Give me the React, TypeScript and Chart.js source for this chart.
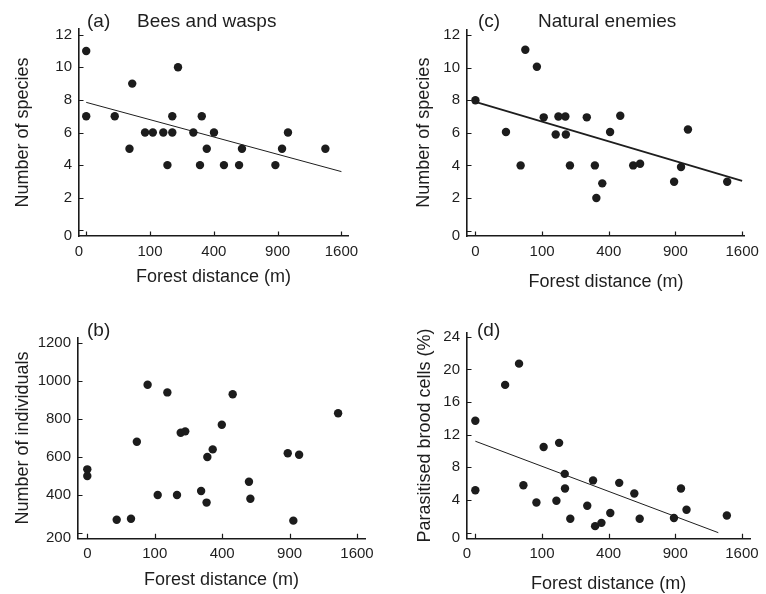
import React, { useEffect, useRef } from 'react';
import { Chart, registerables } from 'chart.js';

Chart.register(...registerables);

// ---------- data ----------
const xTickValues = [0, 100, 400, 900, 1600];
const xTickLabels = ['0', '100', '400', '900', '1600'];

const speciesTicks = [0, 2, 4, 6, 8, 10, 12];
const individualsTicks = [200, 400, 600, 800, 1000, 1200];
const parasitisedTicks = [0, 4, 8, 12, 16, 20, 24];

// (a) Bees and wasps – number of species
const beesDistance = [0, 0, 20, 46, 52, 85, 109, 146, 162, 182, 182, 207, 282, 318, 328, 357, 401, 466, 574, 596, 879, 942, 1000, 1405];
const beesSpecies = [11, 7, 7, 5, 9, 6, 6, 6, 4, 7, 6, 10, 6, 4, 7, 5, 6, 4, 4, 5, 4, 5, 6, 5];
const beesFitDistance = [0, 1600];
const beesFitSpecies = [7.85, 3.6];

// (b) number of individuals
const indivDistance = [0, 0, 19, 42, 54, 80, 109, 141, 177, 192, 211, 285, 313, 317, 346, 398, 465, 575, 585, 884, 934, 987, 1384];
const indivCount = [535, 500, 270, 275, 680, 980, 400, 940, 400, 728, 735, 421, 360, 600, 640, 770, 930, 470, 380, 620, 265, 612, 830];

// (c) Natural enemies – number of species
const enemiesDistance = [0, 21, 46, 56, 85, 105, 145, 155, 182, 184, 201, 279, 321, 329, 362, 408, 472, 560, 610, 888, 951, 1016, 1426];
const enemiesSpecies = [8, 6.05, 4, 11.1, 10.05, 6.95, 5.9, 7, 7, 5.9, 4, 6.95, 4, 2, 2.9, 6.05, 7.05, 4, 4.1, 3, 3.9, 6.2, 3];
const enemiesFitDistance = [0, 1600];
const enemiesFitSpecies = [7.9, 3.05];

// (d) parasitised brood cells (%)
const parasDistance = [0, 0, 20, 43, 52, 84, 105, 148, 158, 180, 181, 203, 282, 312, 323, 358, 410, 466, 569, 608, 888, 952, 1004, 1424];
const parasPercent = [13.7, 5.2, 18.1, 20.7, 5.8, 3.7, 10.5, 3.9, 11, 7.2, 5.4, 1.7, 3.3, 6.4, 0.8, 1.2, 2.4, 6.1, 4.8, 1.7, 1.8, 5.4, 2.8, 2.1];
const parasFitDistance = [0, 1329];
const parasFitPercent = [11.2, 0];

// ---------- styling ----------
const FONT = '"Liberation Sans", Arial, Helvetica, sans-serif';
const INK = '#1e1e1e';
const AXIS = '#1a1a1a';
const CW = 383;
const CH = 304;

type PanelCfg = {
  left: number;
  top: number;
  area: { left: number; right: number; top: number; bottom: number };
  xMin: number;
  xMax: number;
  yMin: number;
  yMax: number;
  xZeroAtEdge: boolean;
  yTicks: number[];
  yTitle: string;
  yTitlePad: number;
  xTitlePad: number;
  distance: number[];
  values: number[];
  fitDistance?: number[];
  fitValues?: number[];
  fitWidth?: number;
  tag: string;
  tagX: number;
  tagY: number;
  title?: string;
  titleX?: number;
};

const panels: PanelCfg[] = [
  {
    left: 0, top: 0,
    area: { left: 79, right: 348, top: 29, bottom: 236 },
    xMin: -1.13, xMax: 41.03, yMin: -0.35, yMax: 12.35,
    xZeroAtEdge: true,
    yTicks: speciesTicks, yTitle: 'Number of species', yTitlePad: 12.7, xTitlePad: 16.2,
    distance: beesDistance, values: beesSpecies,
    fitDistance: beesFitDistance, fitValues: beesFitSpecies, fitWidth: 1,
    tag: '(a)', tagX: 87, tagY: 26.7, title: 'Bees and wasps', titleX: 137,
  },
  {
    left: 383, top: 0,
    area: { left: 84, right: 365, top: 29.3, bottom: 236 },
    xMin: -1.26, xMax: 40.43, yMin: -0.33, yMax: 12.35,
    xZeroAtEdge: false,
    yTicks: speciesTicks, yTitle: 'Number of species', yTitlePad: 30, xTitlePad: 11.5,
    distance: enemiesDistance, values: enemiesSpecies,
    fitDistance: enemiesFitDistance, fitValues: enemiesFitSpecies, fitWidth: 1.8,
    tag: '(c)', tagX: 95, tagY: 26.7, title: 'Natural enemies', titleX: 155,
  },
  {
    left: 0, top: 290,
    area: { left: 78, right: 365, top: 47.7, bottom: 248.3 },
    xMin: -1.38, xMax: 41.19, yMin: 172, yMax: 1228,
    xZeroAtEdge: false,
    yTicks: individualsTicks, yTitle: 'Number of individuals', yTitlePad: 12.7, xTitlePad: 2.7,
    distance: indivDistance, values: indivCount,
    tag: '(b)', tagX: 87, tagY: 45.7,
  },
  {
    left: 383, top: 290,
    area: { left: 84, right: 370, top: 42.7, bottom: 248.3 },
    xMin: -1.25, xMax: 41.25, yMin: -0.69, yMax: 24.49,
    xZeroAtEdge: true,
    yTicks: parasitisedTicks, yTitle: 'Parasitised brood cells (%)', yTitlePad: 30.9, xTitlePad: -0.8,
    distance: parasDistance, values: parasPercent,
    fitDistance: parasFitDistance, fitValues: parasFitPercent, fitWidth: 1,
    tag: '(d)', tagX: 94, tagY: 45.7,
  },
];

function Panel({ cfg }: { cfg: PanelCfg }) {
  const ref = useRef<HTMLCanvasElement>(null);

  useEffect(() => {
    const canvas = ref.current;
    if (!canvas) return;

    const points = cfg.distance.map((d, i) => ({ x: Math.sqrt(d), y: cfg.values[i] }));
    const datasets: any[] = [];
    if (cfg.fitDistance && cfg.fitValues) {
      datasets.push({
        type: 'scatter',
        data: cfg.fitDistance.map((d, i) => ({ x: Math.sqrt(d), y: cfg.fitValues![i] })),
        showLine: true,
        borderColor: INK,
        borderWidth: cfg.fitWidth || 1,
        pointRadius: 0,
        fill: false,
        tension: 0,
        order: 2,
      });
    }
    datasets.push({
      type: 'scatter',
      data: points,
      pointRadius: 4.2,
      pointBackgroundColor: '#1c1c1c',
      pointBorderColor: '#1c1c1c',
      pointBorderWidth: 0,
      order: 1,
    });

    const decor = {
      id: 'panelDecor',
      afterDraw(chart: any) {
        const { ctx, chartArea } = chart;
        const xs = chart.scales.x;
        const ys = chart.scales.y;
        ctx.save();
        ctx.strokeStyle = AXIS;
        ctx.lineWidth = 1.2;
        ctx.beginPath();
        xTickValues.forEach((v) => {
          const px = Math.round(xs.getPixelForValue(Math.sqrt(v))) + 0.5;
          ctx.moveTo(px, chartArea.bottom);
          ctx.lineTo(px, chartArea.bottom - 4.5);
        });
        cfg.yTicks.forEach((v) => {
          const py = Math.round(ys.getPixelForValue(v)) + 0.5;
          ctx.moveTo(chartArea.left, py);
          ctx.lineTo(chartArea.left + 4.5, py);
        });
        ctx.stroke();
        ctx.fillStyle = INK;
        ctx.font = `19px ${FONT}`;
        ctx.textAlign = 'left';
        ctx.textBaseline = 'alphabetic';
        ctx.fillText(cfg.tag, cfg.tagX, cfg.tagY);
        if (cfg.title && cfg.titleX !== undefined) ctx.fillText(cfg.title, cfg.titleX, cfg.tagY);
        ctx.restore();
      },
    };

    const chart = new Chart(canvas, {
      type: 'scatter',
      data: { datasets },
      options: {
        animation: false,
        responsive: false,
        events: [],
        layout: {
          padding: { left: 0, top: cfg.area.top, right: CW - cfg.area.right, bottom: 0 },
        },
        plugins: { legend: { display: false }, tooltip: { enabled: false } },
        scales: {
          x: {
            type: 'linear',
            position: 'bottom',
            min: cfg.xMin,
            max: cfg.xMax,
            grid: { display: false, drawTicks: false },
            border: { display: true, color: AXIS, width: 1.6 },
            afterBuildTicks: (scale: any) => {
              scale.ticks = xTickValues.map((v, i) => ({
                value: i === 0 && cfg.xZeroAtEdge ? scale.min : Math.sqrt(v),
              }));
            },
            afterFit: (scale: any) => {
              scale.height = CH - cfg.area.bottom;
            },
            ticks: {
              autoSkip: false,
              maxRotation: 0,
              padding: 7,
              color: INK,
              font: { family: FONT, size: 15 },
              callback: (_v: any, i: number) => xTickLabels[i],
            },
            title: {
              display: true,
              text: 'Forest distance (m)',
              color: INK,
              font: { family: FONT, size: 18 },
              padding: { top: 0, bottom: cfg.xTitlePad },
            },
          },
          y: {
            type: 'linear',
            position: 'left',
            min: cfg.yMin,
            max: cfg.yMax,
            grid: { display: false, drawTicks: false },
            border: { display: true, color: AXIS, width: 1.6 },
            afterBuildTicks: (scale: any) => {
              scale.ticks = cfg.yTicks.map((v, i) => ({ value: i === 0 ? scale.min : v }));
            },
            afterFit: (scale: any) => {
              scale.width = cfg.area.left;
            },
            ticks: {
              autoSkip: false,
              padding: 7,
              color: INK,
              font: { family: FONT, size: 15 },
              callback: (_v: any, i: number) => String(cfg.yTicks[i]),
            },
            title: {
              display: true,
              text: cfg.yTitle,
              color: INK,
              font: { family: FONT, size: 18 },
              padding: { top: cfg.yTitlePad, bottom: 0 },
            },
          },
        },
      } as any,
      plugins: [decor],
    });

    return () => chart.destroy();
  }, [cfg]);

  return (
    <canvas
      ref={ref}
      width={CW}
      height={CH}
      style={{ position: 'absolute', left: cfg.left, top: cfg.top, width: CW, height: CH }}
    />
  );
}

export default function App() {
  return (
    <div
      style={{
        position: 'fixed',
        left: 0,
        top: 0,
        width: 766,
        height: 594,
        overflow: 'hidden',
        background: '#ffffff',
      }}
    >
      {panels.map((p) => (
        <Panel key={p.tag} cfg={p} />
      ))}
    </div>
  );
}
